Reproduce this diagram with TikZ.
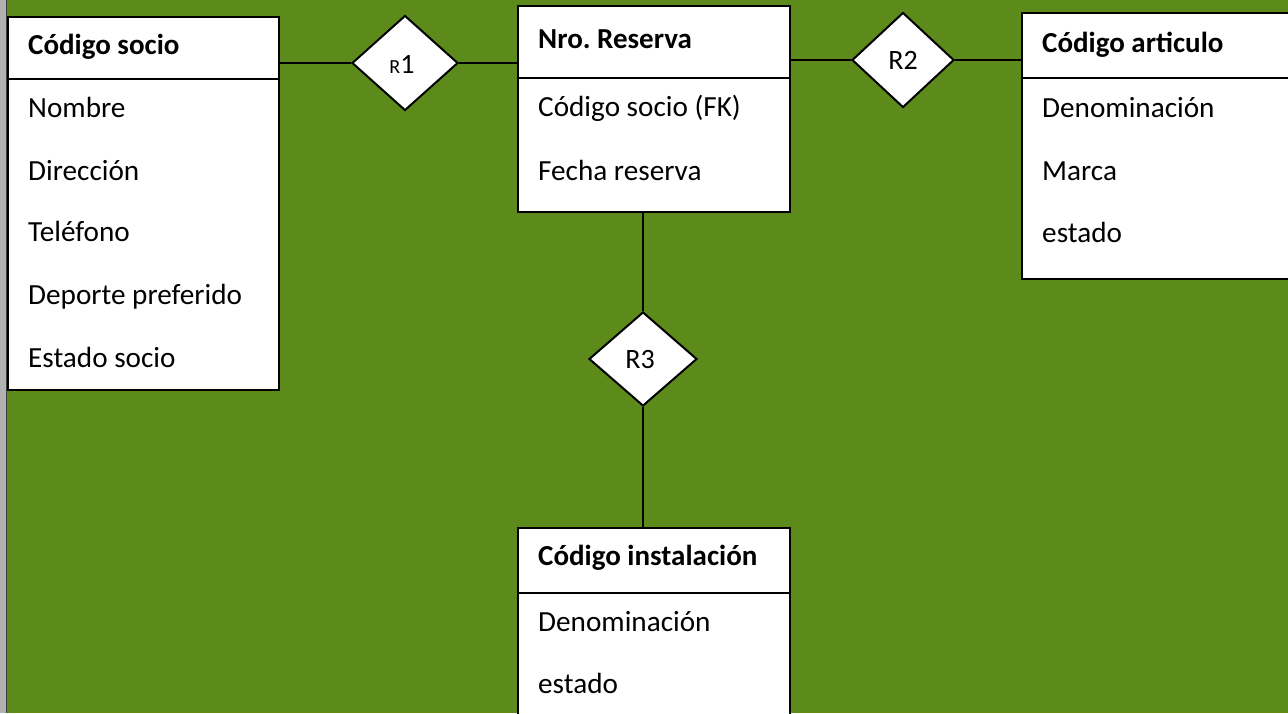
\documentclass[tikz,border=0pt]{standalone}
\usepackage{fontspec}
\setmainfont{Carlito}
\frenchspacing
\usetikzlibrary{shapes.geometric}
\definecolor{bggreen}{RGB}{93,139,27}
\definecolor{stripgray}{RGB}{178,178,178}
\tikzset{
  entity/.style={draw=black, line width=2pt, fill=white, anchor=north west, inner sep=0pt},
  rel/.style={diamond, draw=black, line width=2pt, fill=white, inner sep=0pt, font=\fontsize{28}{32}\selectfont},
  hdr/.style={anchor=base west, inner sep=0pt, font=\fontsize{29}{32}\selectfont\bfseries},
  attr/.style={anchor=base west, inner sep=0pt, font=\fontsize{29.2}{32}\selectfont},
  link/.style={draw=black, line width=2pt},
  sep/.style={draw=black, line width=2pt}
}
\begin{document}
\begin{tikzpicture}[x=1pt,y=-1pt]
\clip (0,0) rectangle (1288,713);
\fill[bggreen] (0,0) rectangle (1288,713);
\fill[stripgray] (0,0) rectangle (6,713);
\draw[black!75, line width=1.2pt] (6.5,0) -- (6.5,713);

% entities
\node[entity, minimum width=271pt, minimum height=373pt] (socio) at (7,16) {};
\node[entity, minimum width=272pt, minimum height=206pt] (reserva) at (517,5) {};
\node[entity, minimum width=290pt, minimum height=266pt] (articulo) at (1021,12) {};
\node[entity, minimum width=272pt, minimum height=200pt] (instal) at (517,527) {};

% header separators
\draw[sep] (socio.west |- 0,79) -- (socio.east |- 0,79);
\draw[sep] (reserva.west |- 0,78) -- (reserva.east |- 0,78);
\draw[sep] (articulo.west |- 0,78) -- (articulo.east |- 0,78);
\draw[sep] (instal.west |- 0,593) -- (instal.east |- 0,593);

% texts
\node[hdr] (t1) at (28,54) {Código socio};
\node[attr] (t2) at (28,117) {Nombre};
\node[attr] (t3) at (28,180) {Dirección};
\node[attr] (t4) at (28,241) {Teléfono};
\node[attr] (t5) at (28,304) {Deporte preferido};
\node[attr] (t6) at (28,367) {Estado socio};

\node[hdr] (t7) at (538,48) {Nro. Reserva};
\node[attr] (t8) at (538,116) {Código socio (FK)};
\node[attr] (t9) at (538,180) {Fecha reserva};

\node[hdr] (t10) at (1042,52) {Código articulo};
\node[attr] (t11) at (1042,117) {Denominación};
\node[attr] (t12) at (1042,180) {Marca};
\node[attr] (t13) at (1042,242) {estado};

\node[hdr] (t14) at (538,565) {Código instalación};
\node[attr] (t15) at (538,631) {Denominación};
\node[attr] (t16) at (538,693) {estado};

% relationships
\node[rel, minimum width=106pt, minimum height=95pt] (r1) at (405,63) {};
\node[anchor=base, inner sep=0pt, font=\fontsize{28}{32}\selectfont] (r1t) at (402,73) {{\fontsize{20}{24}\selectfont R}1};
\node[rel, minimum width=102pt, minimum height=95pt] (r2) at (903,60) {};
\node[anchor=base, inner sep=0pt, font=\fontsize{28}{32}\selectfont] (r2t) at (903,69) {R2};
\node[rel, minimum width=108pt, minimum height=94pt] (r3) at (643,359) {};
\node[anchor=base, inner sep=0pt, font=\fontsize{28}{32}\selectfont] (r3t) at (640,368) {R3};

% connectors
\draw[link] (socio.east |- r1.west) -- (r1.west);
\draw[link] (r1.east) -- (reserva.west |- r1.east);
\draw[link] (reserva.east |- r2.west) -- (r2.west);
\draw[link] (r2.east) -- (articulo.west |- r2.east);
\draw[link] (r3.north |- reserva.south) -- (r3.north);
\draw[link] (r3.south) -- (r3.south |- instal.north);
\end{tikzpicture}
\end{document}
